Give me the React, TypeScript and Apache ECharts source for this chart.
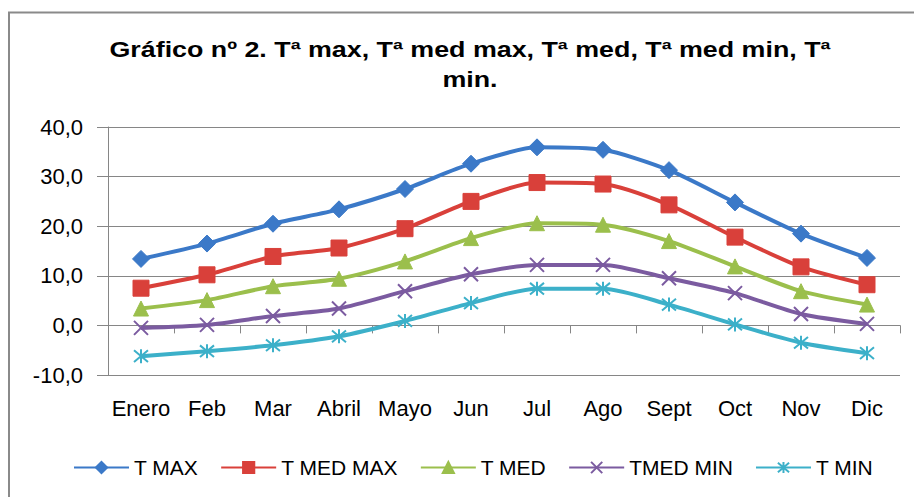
import React, { useEffect, useRef } from "react";
import * as echarts from "echarts";

const categories = ["Enero", "Feb", "Mar", "Abril", "Mayo", "Jun", "Jul", "Ago", "Sept", "Oct", "Nov", "Dic"];
const tMax = [13.4, 16.5, 20.5, 23.4, 27.5, 32.6, 35.9, 35.4, 31.3, 24.8, 18.5, 13.6];
const tMedMax = [7.5, 10.2, 13.9, 15.6, 19.5, 25.0, 28.8, 28.5, 24.3, 17.8, 11.8, 8.2];
const tMed = [3.4, 5.1, 7.9, 9.4, 12.9, 17.6, 20.6, 20.3, 17.0, 11.9, 6.9, 4.2];
const tMedMin = [-0.5, 0.1, 1.9, 3.4, 6.9, 10.3, 12.2, 12.2, 9.5, 6.5, 2.3, 0.3];
const tMin = [-6.2, -5.2, -4.0, -2.2, 0.9, 4.5, 7.4, 7.4, 4.2, 0.2, -3.5, -5.6];
const seriesNames = ["T MAX", "T MED MAX", "T MED", "TMED MIN", "T MIN"];
const titleLines = ["Gráfico nº 2. Tª max, Tª med max, Tª med, Tª med min, Tª", "min."];

const FONT = "'Liberation Sans', Arial, sans-serif";
const GRID = "#868686";

export default function App() {
  const ref = useRef<HTMLDivElement>(null);
  useEffect(() => {
    document.body.style.margin = "0";
    if (!ref.current) return;
    const chart = echarts.init(ref.current, undefined, { renderer: "svg" });
    const mk = (name: string, data: number[], color: string, symbol: string, size: number, stroke?: boolean) => ({
      name,
      type: "line",
      data,
      smooth: 0.25,
      symbol,
      symbolSize: size,
      showAllSymbol: true,
      lineStyle: { color, width: 4 },
      itemStyle: stroke
        ? { color, borderColor: color, borderWidth: 2 }
        : { color, borderColor: color, borderWidth: 1 },
      z: 3,
    });
    chart.setOption({
      animation: false,
      backgroundColor: "#ffffff",
      graphic: [
        {
          type: "rect",
          shape: { x: 9, y: 12.5, width: 1000, height: 600 },
          style: { fill: "none", stroke: "#8a8a8a", lineWidth: 2 },
          silent: true,
        },
        {
          type: "text",
          x: 470,
          y: 34,
          scaleX: 1.22,
          style: {
            text: titleLines.join("\n"),
            align: "center",
            verticalAlign: "top",
            font: `bold 22px ${FONT}`,
            lineHeight: 30,
            fill: "#000",
          },
        },
      ],
      grid: { left: 108, right: 14, top: 127, bottom: 122, containLabel: false },
      legend: {
        data: seriesNames,
        top: 452,
        left: 68,
        itemWidth: 55,
        itemHeight: 14,
        itemGap: 22,
        textStyle: { fontFamily: FONT, fontSize: 21, color: "#000" },
      },
      xAxis: {
        type: "category",
        data: categories,
        boundaryGap: true,
        axisLine: { show: true, lineStyle: { color: GRID, width: 1 } },
        axisTick: { show: true, length: 8, lineStyle: { color: GRID } },
        axisLabel: { margin: 22, color: "#000", fontFamily: FONT, fontSize: 22, interval: 0 },
      },
      yAxis: {
        type: "value",
        min: -10,
        max: 40,
        interval: 10,
        axisLine: { show: true, lineStyle: { color: GRID, width: 1 } },
        axisTick: { show: true, length: 11, lineStyle: { color: GRID } },
        splitLine: { show: true, lineStyle: { color: GRID, width: 1 } },
        axisLabel: {
          margin: 25,
          color: "#000",
          fontFamily: FONT,
          fontSize: 22,
          formatter: (v: number) => v.toFixed(1).replace(".", ","),
        },
      },
      series: [
        mk(seriesNames[0], tMax, "#3b79c8", "diamond", 17),
        mk(seriesNames[1], tMedMax, "#d9403a", "rect", 16),
        mk(seriesNames[2], tMed, "#9bbf4c", "triangle", 15),
        mk(seriesNames[3], tMedMin, "#7b5ba0", "path://M0,0L10,10M10,0L0,10", 14, true),
        mk(seriesNames[4], tMin, "#3cb0c9", "path://M0,0L10,10M10,0L0,10M5,-1L5,11", 14, true),
      ],
    });
    return () => chart.dispose();
  }, []);
  return <div ref={ref} style={{ width: 914, height: 497 }} />;
}
